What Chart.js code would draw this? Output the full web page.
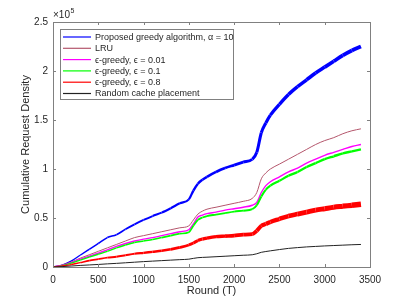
<!DOCTYPE html>
<html>
<head>
<meta charset="utf-8">
<script src="https://cdn.jsdelivr.net/npm/chart.js@4.4.1/dist/chart.umd.min.js"></script>
<style>
  html, body { margin: 0; padding: 0; background: #fff; }
  canvas { display: block; }
</style>
</head>
<body>
<canvas id="grafico" width="409" height="300"></canvas>
<script>
const rounds = [0, 100, 200, 300, 400, 500, 600, 700, 800, 900, 1000, 1100, 1200, 1300, 1400, 1500,
  1550, 1600, 1650, 1700, 1800, 1900, 2000, 2100, 2200, 2250, 2300, 2350, 2400, 2500, 2600,
  2700, 2800, 2900, 3000, 3100, 3200, 3300, 3400];

// cumulative request density, in units of 10^5
const proposto = [0, 0.02, 0.06, 0.12, 0.18, 0.24, 0.30, 0.33, 0.385, 0.435, 0.48, 0.52, 0.555, 0.60, 0.65, 0.69,
  0.78, 0.85, 0.89, 0.92, 0.97, 1.01, 1.04, 1.07, 1.10, 1.17, 1.37, 1.47, 1.55, 1.66, 1.76,
  1.84, 1.91, 1.98, 2.04, 2.10, 2.16, 2.21, 2.25];
const lru = [0, 0.02, 0.05, 0.09, 0.125, 0.16, 0.195, 0.23, 0.265, 0.30, 0.32, 0.34, 0.36, 0.38, 0.40, 0.42,
  0.48, 0.54, 0.57, 0.59, 0.61, 0.63, 0.65, 0.67, 0.70, 0.76, 0.90, 0.96, 1.00, 1.05, 1.10,
  1.15, 1.20, 1.25, 1.29, 1.32, 1.36, 1.39, 1.41];
const eps001 = [0, 0.015, 0.045, 0.08, 0.11, 0.14, 0.175, 0.21, 0.24, 0.265, 0.285, 0.30, 0.32, 0.34, 0.36, 0.38,
  0.44, 0.51, 0.53, 0.545, 0.56, 0.58, 0.595, 0.61, 0.63, 0.66, 0.76, 0.83, 0.87, 0.92, 0.97,
  1.01, 1.06, 1.10, 1.14, 1.17, 1.20, 1.23, 1.25];
const eps01 = [0, 0.013, 0.04, 0.07, 0.10, 0.13, 0.16, 0.195, 0.225, 0.25, 0.265, 0.28, 0.30, 0.32, 0.34, 0.355,
  0.42, 0.48, 0.505, 0.52, 0.535, 0.55, 0.565, 0.575, 0.59, 0.63, 0.72, 0.79, 0.83, 0.88, 0.93,
  0.97, 1.02, 1.06, 1.10, 1.13, 1.16, 1.18, 1.20];
const eps08 = [0, 0.01, 0.025, 0.045, 0.065, 0.08, 0.095, 0.105, 0.12, 0.135, 0.145, 0.155, 0.165, 0.18, 0.20, 0.225,
  0.245, 0.27, 0.285, 0.295, 0.31, 0.315, 0.32, 0.33, 0.335, 0.37, 0.42, 0.44, 0.46, 0.49, 0.52,
  0.54, 0.56, 0.58, 0.595, 0.61, 0.62, 0.63, 0.64];
const aleatorio = [0, 0.004, 0.01, 0.016, 0.021, 0.026, 0.032, 0.037, 0.043, 0.049, 0.055, 0.06, 0.065, 0.07, 0.075, 0.08,
  0.088, 0.095, 0.098, 0.10, 0.105, 0.11, 0.115, 0.12, 0.125, 0.135, 0.15, 0.158, 0.165, 0.178, 0.19,
  0.198, 0.205, 0.21, 0.215, 0.219, 0.223, 0.227, 0.23];

const xTicks = [0, 500, 1000, 1500, 2000, 2500, 3000, 3500];
const yTicks = [0, 0.5, 1, 1.5, 2, 2.5];

const nomes = ['Proposed greedy algorithm, \u03b1 = 10', 'LRU', '\u03f5-greedy, \u03f5 = 0.01',
  '\u03f5-greedy, \u03f5 = 0.1', '\u03f5-greedy, \u03f5 = 0.8', 'Random cache placement'];
const cores = ['#0000ff', '#b4566c', '#ff00ff', '#00ff00', '#ff0000', '#222222'];

const fonte = '"Liberation Sans", Arial, Helvetica, sans-serif';
const corTexto = '#262626';
const corEixo = '#808080';

function pontos(vals) {
    return rounds.map((r, i) => ({ x: r, y: vals[i] }));
}

// espessura crescente para imitar a faixa de ruído
function larguraRuido(min, max) {
    return ctx => min + (max - min) * (ctx.p0DataIndex / (rounds.length - 1));
}

const series = [proposto, lru, eps001, eps01, eps08, aleatorio];
const larguras = [larguraRuido(1.2, 4), () => 1, () => 1.4, larguraRuido(1.2, 2.5), larguraRuido(1.2, 5.5), () => 1];

const datasets = series.map((s, i) => ({
    label: nomes[i],
    data: pontos(s),
    borderColor: cores[i],
    borderWidth: 1,
    segment: { borderWidth: larguras[i] },
    pointRadius: 0,
    cubicInterpolationMode: 'monotone',
    fill: false,
    order: 6 - i
}));

const molduraMatlab = {
    id: 'molduraMatlab',
    afterDraw(chart) {
        const ctx = chart.ctx;
        const a = chart.chartArea;
        const sx = chart.scales.x, sy = chart.scales.y;
        ctx.save();
        ctx.strokeStyle = corEixo;
        ctx.lineWidth = 1;
        ctx.strokeRect(Math.round(a.left) + 0.5, Math.round(a.top) + 0.5,
            Math.round(a.right - a.left), Math.round(a.bottom - a.top));
        ctx.beginPath();
        xTicks.forEach(v => {
            const px = Math.round(sx.getPixelForValue(v)) + 0.5;
            ctx.moveTo(px, a.bottom); ctx.lineTo(px, a.bottom - 3);
            ctx.moveTo(px, a.top); ctx.lineTo(px, a.top + 3);
        });
        yTicks.forEach(v => {
            const py = Math.round(sy.getPixelForValue(v)) + 0.5;
            ctx.moveTo(a.left, py); ctx.lineTo(a.left + 3, py);
            ctx.moveTo(a.right, py); ctx.lineTo(a.right - 3, py);
        });
        ctx.stroke();

        // títulos dos eixos
        ctx.fillStyle = corTexto;
        ctx.font = '11px ' + fonte;
        ctx.textAlign = 'center';
        ctx.textBaseline = 'middle';
        ctx.fillText('Round (T)', (a.left + a.right) / 2, 291);
        ctx.save();
        ctx.translate(26, (a.top + a.bottom) / 2);
        ctx.rotate(-Math.PI / 2);
        ctx.fillText('Cumulative Request Density', 0, 0);
        ctx.restore();

        // multiplicador x10^5
        ctx.textAlign = 'left';
        ctx.textBaseline = 'alphabetic';
        ctx.font = '10px ' + fonte;
        ctx.fillText('\u00d710', a.left, a.top - 4);
        const w = ctx.measureText('\u00d710').width;
        ctx.font = '7px ' + fonte;
        ctx.fillText('5', a.left + w + 0.5, a.top - 9);

        // legenda
        const lx = 60, ly = 29, lw = 173, lh = 70;
        ctx.fillStyle = '#ffffff';
        ctx.fillRect(lx, ly, lw, lh);
        ctx.strokeStyle = corEixo;
        ctx.strokeRect(lx + 0.5, ly + 0.5, lw, lh);
        ctx.font = '9px ' + fonte;
        ctx.textBaseline = 'middle';
        nomes.forEach((nome, i) => {
            const y = ly + 8 + i * 11.3;
            ctx.strokeStyle = cores[i];
            ctx.lineWidth = 1.2;
            ctx.beginPath();
            ctx.moveTo(63, y);
            ctx.lineTo(91, y);
            ctx.stroke();
            ctx.fillStyle = corTexto;
            ctx.fillText(nome, 95, y + 0.5);
        });
        ctx.restore();
    }
};

new Chart(document.getElementById('grafico').getContext('2d'), {
    type: 'line',
    data: { datasets: datasets },
    options: {
        responsive: false,
        animation: false,
        layout: { padding: { left: 0, right: 39, top: 22, bottom: 0 } },
        plugins: { legend: { display: false }, tooltip: { enabled: false } },
        scales: {
            x: {
                type: 'linear',
                min: 0, max: 3500,
                afterFit: s => { s.height = 33; },
                afterBuildTicks: s => { s.ticks = xTicks.map(v => ({ value: v })); },
                grid: { display: false, drawTicks: false },
                border: { display: false },
                ticks: { color: corTexto, font: { family: fonte, size: 10 }, padding: 7, maxRotation: 0,
                         callback: v => String(v) }
            },
            y: {
                type: 'linear',
                min: 0, max: 2.5,
                afterFit: s => { s.width = 53; },
                afterBuildTicks: s => { s.ticks = yTicks.map(v => ({ value: v })); },
                grid: { display: false, drawTicks: false },
                border: { display: false },
                ticks: { color: corTexto, font: { family: fonte, size: 10 }, padding: 5,
                         callback: v => String(v) }
            }
        }
    },
    plugins: [molduraMatlab]
});
</script>
</body>
</html>
